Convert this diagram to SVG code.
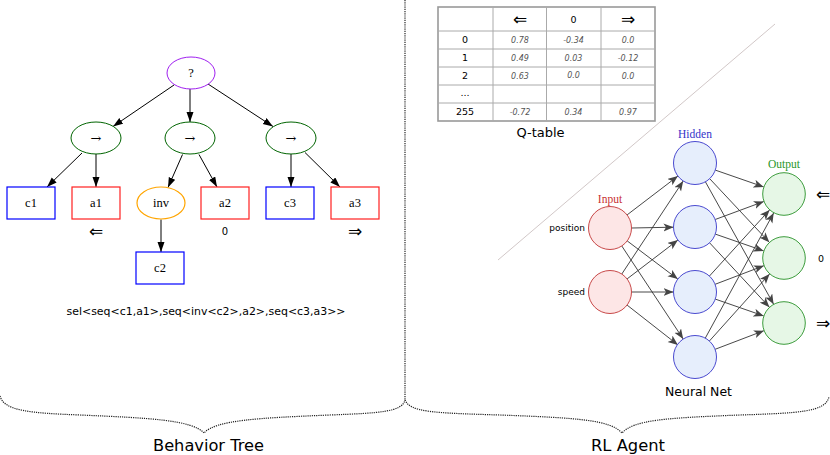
<svg xmlns="http://www.w3.org/2000/svg" width="830" height="455" viewBox="0 0 830 455">
<defs>
<marker id="bt" markerUnits="userSpaceOnUse" markerWidth="10" markerHeight="8" refX="10" refY="3.5" orient="auto">
<path d="M0,0 L10,3.5 L0,7 z" fill="#000"/>
</marker>
<marker id="nn" markerUnits="userSpaceOnUse" markerWidth="11" markerHeight="9" refX="10" refY="4" orient="auto">
<path d="M0,0 L10,4 L0,8 L2.5,4 z" fill="#444"/>
</marker>
</defs>
<style>
.tt{font-family:"Liberation Serif",serif;font-size:12.5px;fill:#000;text-anchor:middle;dominant-baseline:central}
.ar{font-family:"DejaVu Serif",serif;font-size:13px}
.sans{font-family:"DejaVu Sans",sans-serif;fill:#000}
.mid{text-anchor:middle}
.bte{stroke:#000;stroke-width:1;fill:none;marker-end:url(#bt)}
.nne{stroke:#333;stroke-width:0.9;fill:none;marker-end:url(#nn)}
.seq{fill:#fff;stroke:#006400;stroke-width:1}
.cnd{fill:#fff;stroke:#0000ff;stroke-width:1.2}
.act{fill:#fff;stroke:#ff2020;stroke-width:1.2}
.dot{stroke:#222;stroke-width:1.2;fill:none;stroke-dasharray:1.2,1}
.qv{font-family:"DejaVu Sans",sans-serif;font-size:8px;font-style:italic;fill:#555;text-anchor:middle}
.ql{font-family:"DejaVu Sans",sans-serif;font-size:9.5px;fill:#000;text-anchor:middle}
.in{fill:#fde6e6;stroke:#c84848;stroke-width:1}
.hid{fill:#e6eefc;stroke:#4a4ad0;stroke-width:1}
.out{fill:#e6f7e6;stroke:#3c9c3c;stroke-width:1}
.lab{font-family:"Liberation Serif",serif;font-size:11.5px;text-anchor:middle}
</style>
<rect width="830" height="455" fill="#fff"/>

<!-- dividers and braces -->
<g id="dividers">
<line class="dot" x1="405" y1="0" x2="405" y2="400" stroke-dasharray="1,2"/>
<path class="dot" d="M0,396 C4,411 30,413 80,415 C150,418 192,420 204,433 C216,420 258,418 330,415 C380,413 402,412 405,400"/>
<path class="dot" d="M405,400 C410,412 432,413 500,415 C580,418 610,420 622,433 C634,420 664,418 740,415 C800,413 825,412 829,397"/>
<line x1="498" y1="260" x2="775" y2="24" stroke="#d2c8c8" stroke-width="1"/>
</g>

<!-- behavior tree connectors -->
<g id="bt-edges">
<line class="bte" x1="174" y1="85" x2="113" y2="126.5"/>
<line class="bte" x1="190" y1="89" x2="190" y2="122"/>
<line class="bte" x1="208" y1="84" x2="273" y2="126.5"/>
<line class="bte" x1="82" y1="153" x2="47" y2="187"/>
<line class="bte" x1="96" y1="154" x2="96" y2="187"/>
<line class="bte" x1="182.5" y1="154.5" x2="168" y2="187.5"/>
<line class="bte" x1="199" y1="154.5" x2="217" y2="187"/>
<line class="bte" x1="291" y1="154" x2="291" y2="187"/>
<line class="bte" x1="305" y1="152.5" x2="340" y2="187"/>
<line class="bte" x1="161" y1="219.5" x2="161" y2="252"/>
</g>

<g id="sel"><ellipse cx="191" cy="73" rx="24" ry="16" fill="#fff" stroke="#a020f0" stroke-width="1"/><text class="tt" x="191" y="73">?</text></g>
<g id="seq1"><ellipse class="seq" cx="96" cy="138" rx="25" ry="16"/><text class="tt ar" x="96" y="138">→</text></g>
<g id="seq2"><ellipse class="seq" cx="190" cy="138" rx="25" ry="16"/><text class="tt ar" x="190" y="138">→</text></g>
<g id="seq3"><ellipse class="seq" cx="291" cy="138" rx="25" ry="16"/><text class="tt ar" x="291" y="138">→</text></g>
<g id="c1"><rect class="cnd" x="7" y="187" width="48" height="32"/><text class="tt" x="31" y="203">c1</text></g>
<g id="a1"><rect class="act" x="72" y="187" width="48" height="32"/><text class="tt" x="96" y="203">a1</text>
<text class="sans mid" x="96" y="237" font-size="17">⇐</text></g>
<g id="inv"><ellipse cx="161" cy="203" rx="24" ry="16" fill="#fff" stroke="#ffa500" stroke-width="1.2"/><text class="tt" x="161" y="203">inv</text></g>
<g id="a2"><rect class="act" x="201" y="187" width="48" height="32"/><text class="tt" x="225" y="203">a2</text>
<text class="sans mid" x="225" y="235" font-size="10">0</text></g>
<g id="c3"><rect class="cnd" x="266" y="187" width="48" height="32"/><text class="tt" x="290" y="203">c3</text></g>
<g id="a3"><rect class="act" x="331" y="187" width="48" height="32"/><text class="tt" x="355" y="203">a3</text>
<text class="sans mid" x="355" y="237" font-size="17">⇒</text></g>
<g id="c2"><rect class="cnd" x="136" y="252" width="48" height="32"/><text class="tt" x="160" y="268">c2</text></g>

<g id="formula"><text class="sans mid" x="206" y="315" font-size="11" textLength="279" lengthAdjust="spacingAndGlyphs">sel&lt;seq&lt;c1,a1&gt;,seq&lt;inv&lt;c2&gt;,a2&gt;,seq&lt;c3,a3&gt;&gt;</text></g>

<!-- Q-table -->
<g id="qtable">
<rect x="438" y="7" width="217" height="114" fill="#fff" stroke="#999" stroke-width="1.6"/>
<g stroke="#aaa" stroke-width="1">
<line x1="493" y1="7" x2="493" y2="121"/>
<line x1="546.5" y1="7" x2="546.5" y2="121"/>
<line x1="601" y1="7" x2="601" y2="121"/>
<line x1="438" y1="31" x2="655" y2="31"/>
<line x1="438" y1="49" x2="655" y2="49"/>
<line x1="438" y1="67" x2="655" y2="67"/>
<line x1="438" y1="85" x2="655" y2="85"/>
<line x1="438" y1="103" x2="655" y2="103"/>
</g>
<text class="sans mid" x="520" y="25" font-size="17">⇐</text>
<text class="ql" x="573.5" y="22.5">0</text>
<text class="sans mid" x="628" y="25" font-size="17">⇒</text>
<text class="ql" x="465" y="43">0</text>
<text class="ql" x="465" y="61">1</text>
<text class="ql" x="465" y="79">2</text>
<text class="ql" x="465" y="96">...</text>
<text class="ql" x="465" y="115">255</text>
<text class="qv" x="520" y="43">0.78</text><text class="qv" x="573.5" y="42.5">-0.34</text><text class="qv" x="628" y="43">0.0</text>
<text class="qv" x="520" y="61">0.49</text><text class="qv" x="573.5" y="61">0.03</text><text class="qv" x="628" y="60.5">-0.12</text>
<text class="qv" x="520" y="79">0.63</text><text class="qv" x="573.5" y="78">0.0</text><text class="qv" x="628" y="79">0.0</text>
<text class="qv" x="520" y="115">-0.72</text><text class="qv" x="573.5" y="114.5">0.34</text><text class="qv" x="628" y="115">0.97</text>
<text class="sans mid" x="540.5" y="137" font-size="13">Q-table</text>
</g>

<!-- neural net connectors -->
<g id="nn-edges">
<line class="nne" x1="627.1" y1="214.9" x2="677.9" y2="176.1"/>
<line class="nne" x1="631.5" y1="228" x2="673.5" y2="227.2"/>
<line class="nne" x1="627.2" y1="240.9" x2="677.8" y2="279.1"/>
<line class="nne" x1="621.8" y1="246" x2="683.2" y2="339"/>
<line class="nne" x1="621.8" y1="274" x2="683.2" y2="181"/>
<line class="nne" x1="627.1" y1="278.9" x2="677.9" y2="240.1"/>
<line class="nne" x1="631.5" y1="292" x2="673.5" y2="292"/>
<line class="nne" x1="627.1" y1="305.1" x2="677.9" y2="344.9"/>
<line class="nne" x1="715.3" y1="170.1" x2="763.7" y2="186.9"/>
<line class="nne" x1="709.7" y1="178.7" x2="769.3" y2="242.3"/>
<line class="nne" x1="705.4" y1="181.8" x2="773.6" y2="304.2"/>
<line class="nne" x1="715.2" y1="219.5" x2="763.8" y2="201.5"/>
<line class="nne" x1="715.3" y1="234.1" x2="763.7" y2="250.9"/>
<line class="nne" x1="709.6" y1="242.8" x2="769.4" y2="307.2"/>
<line class="nne" x1="709.4" y1="276.1" x2="769.6" y2="209.9"/>
<line class="nne" x1="715.1" y1="284.3" x2="763.9" y2="265.7"/>
<line class="nne" x1="715.3" y1="299.1" x2="763.7" y2="315.9"/>
<line class="nne" x1="705.3" y1="338.1" x2="773.7" y2="212.9"/>
<line class="nne" x1="709.4" y1="341" x2="769.6" y2="274"/>
<line class="nne" x1="715.1" y1="349.3" x2="763.9" y2="330.7"/>
</g>

<g id="in-position"><circle class="in" cx="610" cy="228" r="21.5"/><text class="sans" x="585" y="231" font-size="9" text-anchor="end">position</text></g>
<g id="in-speed"><circle class="in" cx="610" cy="292" r="21.5"/><text class="sans" x="585" y="295" font-size="9" text-anchor="end">speed</text></g>
<g id="h1"><circle class="hid" cx="695" cy="163" r="21.5"/></g>
<g id="h2"><circle class="hid" cx="695" cy="227" r="21.5"/></g>
<g id="h3"><circle class="hid" cx="695" cy="292" r="21.5"/></g>
<g id="h4"><circle class="hid" cx="695" cy="357" r="21.5"/></g>
<g id="o1"><circle class="out" cx="784" cy="194" r="21.3"/><text class="sans" x="823" y="200" font-size="17" text-anchor="middle">⇐</text></g>
<g id="o2"><circle class="out" cx="784" cy="258" r="21.3"/><text class="sans" x="821" y="262" font-size="9.5" text-anchor="middle">0</text></g>
<g id="o3"><circle class="out" cx="784" cy="323" r="21.3"/><text class="sans" x="823" y="329" font-size="17" text-anchor="middle">⇒</text></g>

<g id="nn-labels">
<text class="lab" x="610" y="203" fill="#c83232">Input</text>
<text class="lab" x="695" y="138" fill="#3232c8">Hidden</text>
<text class="lab" x="784" y="168" fill="#289628">Output</text>
<text class="sans mid" x="698.5" y="396" font-size="13" textLength="67" lengthAdjust="spacingAndGlyphs">Neural Net</text>
</g>

<g id="section-labels">
<text class="sans mid" x="208.5" y="451" font-size="16" textLength="111" lengthAdjust="spacingAndGlyphs">Behavior Tree</text>
<text class="sans mid" x="628" y="451" font-size="16" textLength="74" lengthAdjust="spacingAndGlyphs">RL Agent</text>
</g>
</svg>
